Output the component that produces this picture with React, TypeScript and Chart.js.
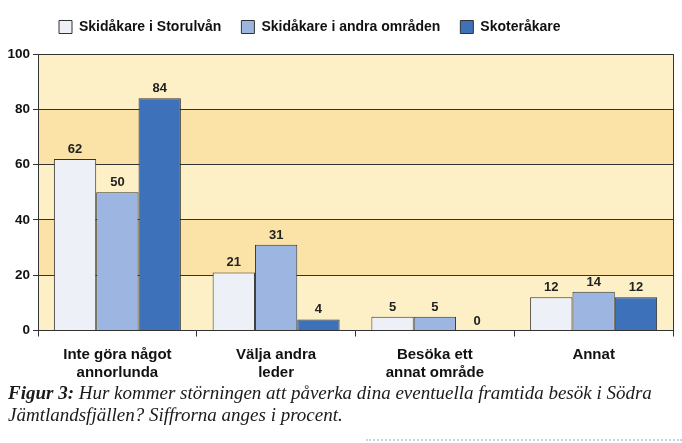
import React, { useEffect, useRef } from 'react';
import { Chart, registerables } from 'chart.js';

Chart.register(...registerables);

const categories: string[][] = [
  ['Inte göra något', 'annorlunda'],
  ['Välja andra', 'leder'],
  ['Besöka ett', 'annat område'],
  ['Annat'],
];
const seriesNames = ['Skidåkare i Storulvån', 'Skidåkare i andra områden', 'Skoteråkare'];
const storulvan = [62, 21, 5, 12];
const andraOmraden = [50, 31, 5, 14];
const skoter = [84, 4, 0, 12];
const yTicks = [0, 20, 40, 60, 80, 100];

const SANS = "'Liberation Sans', Arial, sans-serif";
const SERIF = "'Liberation Serif', 'DejaVu Serif', serif";

const bandsPlugin = {
  id: 'bands',
  beforeDraw(chart: any) {
    const { ctx, chartArea } = chart;
    const y = chart.scales.y;
    ctx.save();
    for (let i = 0; i < yTicks.length - 1; i++) {
      const top = y.getPixelForValue(yTicks[i + 1]);
      const bot = y.getPixelForValue(yTicks[i]);
      ctx.fillStyle = i % 2 === 0 ? '#fdf0c7' : '#fbe2a6';
      ctx.fillRect(chartArea.left, top, chartArea.right - chartArea.left, bot - top);
    }
    ctx.restore();
  },
  afterDraw(chart: any) {
    const { ctx, chartArea } = chart;
    ctx.save();
    ctx.strokeStyle = '#333';
    ctx.lineWidth = 1;
    ctx.beginPath();
    ctx.moveTo(Math.round(chartArea.right) + 0.5, chartArea.top);
    ctx.lineTo(Math.round(chartArea.right) + 0.5, chartArea.bottom);
    ctx.stroke();
    ctx.restore();
  },
};

const labelsPlugin = {
  id: 'valueLabels',
  afterDatasetsDraw(chart: any) {
    const { ctx } = chart;
    ctx.save();
    ctx.font = `bold 13px ${SANS}`;
    ctx.fillStyle = '#222';
    ctx.textAlign = 'center';
    ctx.textBaseline = 'alphabetic';
    chart.data.datasets.forEach((ds: any, di: number) => {
      const meta = chart.getDatasetMeta(di);
      meta.data.forEach((el: any, i: number) => {
        ctx.fillText(String(ds.data[i]), el.x, el.y - 6);
      });
    });
    ctx.restore();
  },
};

const legendShift = {
  id: 'legendShift',
  beforeInit(chart: any) {
    const legend = chart.legend;
    if (!legend) return;
    const origFit = legend.fit;
    legend.fit = function () {
      origFit.call(this);
      this.height += 10;
    };
  },
  beforeDraw(chart: any) {
    if (chart.legend) chart.legend.left = 39;
  },
};

export default function App() {
  const ref = useRef<HTMLCanvasElement>(null);
  useEffect(() => {
    document.body.style.margin = '0';
    const chart = new Chart(ref.current!, {
      type: 'bar',
      data: {
        labels: categories,
        datasets: [
          { label: seriesNames[0], data: storulvan, backgroundColor: '#eef0f7', borderColor: '#333', borderWidth: 1 },
          { label: seriesNames[1], data: andraOmraden, backgroundColor: '#9cb6e1', borderColor: '#333', borderWidth: 1 },
          { label: seriesNames[2], data: skoter, backgroundColor: '#3d71ba', borderColor: '#333', borderWidth: 1 },
        ],
      },
      options: {
        animation: false,
        responsive: true,
        maintainAspectRatio: false,
        datasets: { bar: { categoryPercentage: 0.8, barPercentage: 1.0 } },
        layout: { padding: { top: 0, right: 9, bottom: 2, left: 0 } },
        plugins: {
          legend: {
            position: 'top',
            align: 'start',
            labels: {
              boxWidth: 13,
              boxHeight: 13,
              padding: 20,
              color: '#111',
              font: { family: SANS, size: 14, weight: 'bold' },
            },
          },
          tooltip: { enabled: false },
        },
        scales: {
          x: {
            grid: { drawOnChartArea: false, drawTicks: true, tickLength: 6, offset: true, color: '#333' },
            border: { display: true, color: '#333', width: 1 },
            ticks: { color: '#111', font: { family: SANS, size: 15, weight: 'bold', lineHeight: 1.15 }, padding: 10, maxRotation: 0 },
          },
          y: {
            min: 0,
            max: 100,
            afterFit(scale: any) { scale.width = 38; },
            ticks: { stepSize: 20, color: '#111', font: { family: SANS, size: 13.5, weight: 'bold' }, padding: 3 },
            grid: { color: '#333', lineWidth: 1, tickLength: 5 },
            border: { display: true, color: '#333', width: 1 },
          },
        },
      },
      plugins: [bandsPlugin, labelsPlugin, legendShift],
    });
    return () => chart.destroy();
  }, []);

  return (
    <div style={{ position: 'absolute', left: 0, top: 0, width: 682, height: 443, background: '#fff' }}>
      <div style={{ position: 'absolute', left: 0, top: 0, width: 682, height: 393 }}>
        <canvas ref={ref} />
      </div>
      <div
        style={{
          position: 'absolute',
          left: 8,
          top: 382,
          width: 670,
          fontFamily: SERIF,
          fontStyle: 'italic',
          fontSize: 19,
          lineHeight: '22px',
          color: '#1a1a1a',
          whiteSpace: 'nowrap',
        }}
      >
        <span style={{ fontWeight: 'bold' }}>Figur 3:</span> Hur kommer störningen att påverka dina eventuella framtida besök i Södra
        <br />
        Jämtlandsfjällen? Siffrorna anges i procent.
      </div>
      <div
        style={{
          position: 'absolute',
          left: 366,
          top: 439,
          width: 316,
          height: 0,
          borderTop: '2px dotted #c9d2e4',
        }}
      />
    </div>
  );
}
